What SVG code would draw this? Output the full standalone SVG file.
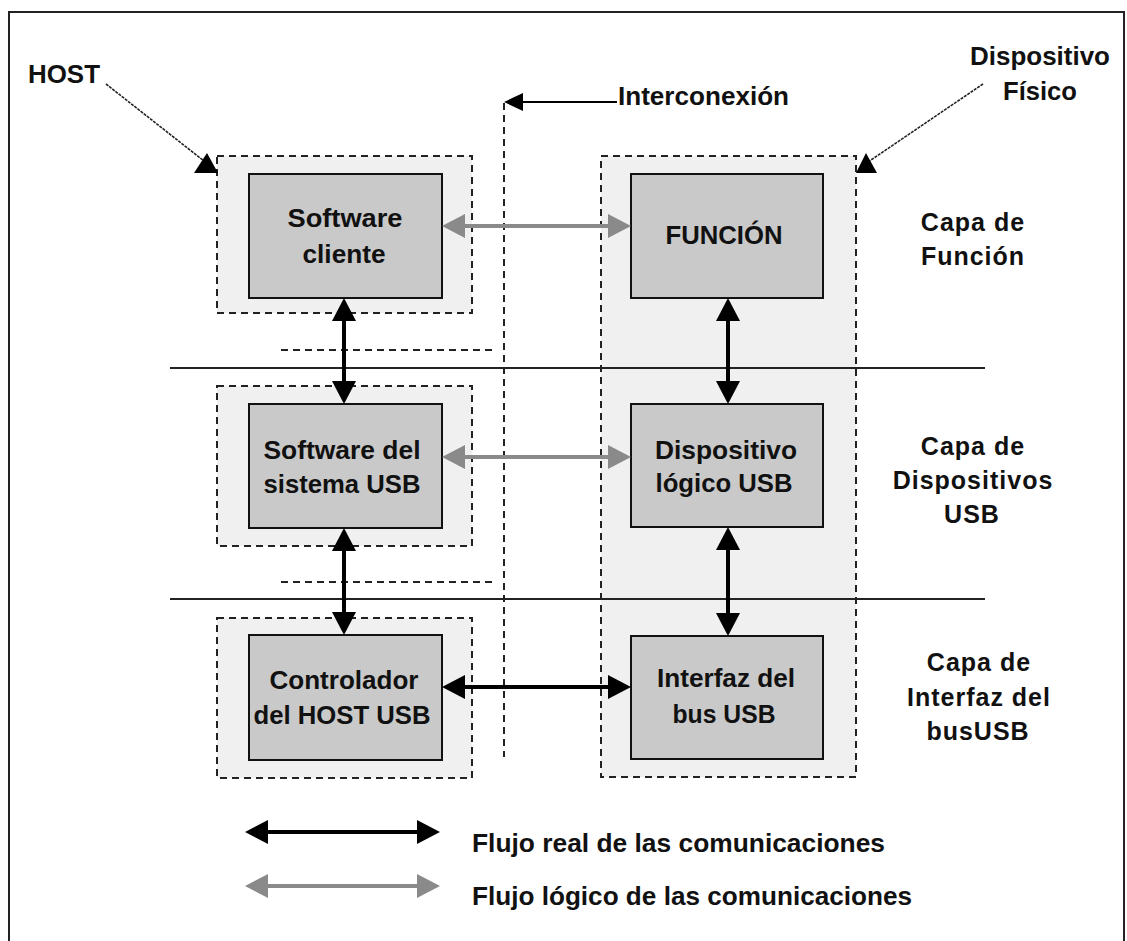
<svg xmlns="http://www.w3.org/2000/svg" width="1127" height="941" viewBox="0 0 1127 941">
  <style>
    text { font-family: "Liberation Sans", Arial, sans-serif; font-weight: bold; fill: #111; }
    .box { fill: #c9c9c9; stroke: #111; stroke-width: 2; }
    .zone { fill: #f0f0f0; stroke: #222; stroke-width: 2; stroke-dasharray: 7 5; }
    .lbl { font-size: 26px; text-anchor: middle; }
    .layer { font-size: 25px; text-anchor: middle; letter-spacing: 1px; }
    .real { stroke: #000; stroke-width: 4; fill: none; marker-start: url(#headK); marker-end: url(#headK); }
    .logic { stroke: #8a8a8a; stroke-width: 4; fill: none; marker-start: url(#headG); marker-end: url(#headG); }
    .sep { stroke: #222; stroke-width: 2; }
    .dash { stroke: #222; stroke-width: 2; stroke-dasharray: 7 5; fill: none; }
    .pointer { stroke: #222; stroke-width: 1.6; fill: none; stroke-dasharray: 3 1; }
  </style>
  <defs>
    <marker id="headK" viewBox="-24 -13 25 26" refX="-10" refY="0" markerWidth="25" markerHeight="26" markerUnits="userSpaceOnUse" orient="auto-start-reverse">
      <path d="M0,0 L-23,-12 L-23,12 Z" fill="#000"/>
    </marker>
    <marker id="headG" viewBox="-24 -13 25 26" refX="-10" refY="0" markerWidth="25" markerHeight="26" markerUnits="userSpaceOnUse" orient="auto-start-reverse">
      <path d="M0,0 L-23,-12 L-23,12 Z" fill="#8a8a8a"/>
    </marker>
  </defs>

  <rect width="1127" height="941" fill="#fff"/>
  <!-- frame -->
  <path d="M9,945 V12 H1124 V945" fill="none" stroke="#222" stroke-width="2"/>

  <!-- device column and host zones -->
  <g id="zones">
    <rect id="zone-device" class="zone" x="601" y="156" width="255" height="621"/>
    <rect id="zone-host1" class="zone" x="217" y="156" width="255" height="157"/>
    <rect id="zone-host2" class="zone" x="217" y="386" width="255" height="160"/>
    <rect id="zone-host3" class="zone" x="217" y="618" width="255" height="160"/>
  </g>

  <!-- layer separators and interconnect -->
  <g id="guides">
    <line class="sep" x1="170" y1="368" x2="985" y2="368"/>
    <line class="sep" x1="170" y1="599" x2="985" y2="599"/>
    <line class="dash" x1="281" y1="350" x2="497" y2="350"/>
    <line class="dash" x1="281" y1="582" x2="497" y2="582"/>
    <line class="dash" x1="504" y1="103" x2="504" y2="757"/>
  </g>

  <g id="n-software-cliente">
    <rect class="box" x="249" y="174" width="193" height="124"/>
    <text class="lbl" x="345" y="227" textLength="115" lengthAdjust="spacingAndGlyphs">Software</text>
    <text class="lbl" x="344" y="263" textLength="83" lengthAdjust="spacingAndGlyphs">cliente</text>
  </g>
  <g id="n-software-sistema">
    <rect class="box" x="249" y="404" width="193" height="124"/>
    <text class="lbl" x="342" y="459" textLength="157" lengthAdjust="spacingAndGlyphs">Software del</text>
    <text class="lbl" x="342" y="493" textLength="157" lengthAdjust="spacingAndGlyphs">sistema USB</text>
  </g>
  <g id="n-controlador">
    <rect class="box" x="249" y="635" width="193" height="125"/>
    <text class="lbl" x="344" y="689" textLength="149" lengthAdjust="spacingAndGlyphs">Controlador</text>
    <text class="lbl" x="342" y="724" textLength="177" lengthAdjust="spacingAndGlyphs">del HOST USB</text>
  </g>
  <g id="n-funcion">
    <rect class="box" x="631" y="174" width="192" height="124"/>
    <text class="lbl" x="724" y="244" textLength="117" lengthAdjust="spacingAndGlyphs">FUNCIÓN</text>
  </g>
  <g id="n-dispositivo-logico">
    <rect class="box" x="631" y="404" width="192" height="123"/>
    <text class="lbl" x="726" y="459" textLength="142" lengthAdjust="spacingAndGlyphs">Dispositivo</text>
    <text class="lbl" x="724" y="492" textLength="137" lengthAdjust="spacingAndGlyphs">lógico USB</text>
  </g>
  <g id="n-interfaz-bus">
    <rect class="box" x="631" y="636" width="192" height="123"/>
    <text class="lbl" x="726" y="687" textLength="138" lengthAdjust="spacingAndGlyphs">Interfaz del</text>
    <text class="lbl" x="724" y="723" textLength="103" lengthAdjust="spacingAndGlyphs">bus USB</text>
  </g>

  <!-- callout labels -->
  <g id="n-host-label">
    <text x="28" y="83" font-size="26" textLength="72" lengthAdjust="spacingAndGlyphs">HOST</text>
    <line class="pointer" x1="106" y1="84" x2="204" y2="161"/>
    <polygon points="194,173 218,173 207,153" fill="#000"/>
  </g>
  <g id="n-interconexion-label">
    <text x="618" y="105" font-size="26" textLength="171" lengthAdjust="spacingAndGlyphs">Interconexión</text>
    <line x1="617" y1="102" x2="520" y2="102" stroke="#000" stroke-width="2"/>
    <polygon points="504,102 523,93 523,111" fill="#000"/>
  </g>
  <g id="n-dispositivo-fisico-label">
    <text x="970" y="65" font-size="26" textLength="140" lengthAdjust="spacingAndGlyphs">Dispositivo</text>
    <text x="1003" y="100" font-size="26" textLength="74" lengthAdjust="spacingAndGlyphs">Físico</text>
    <line class="pointer" x1="983" y1="84" x2="868" y2="162"/>
    <polygon points="856,173 877,173 866,153" fill="#000"/>
  </g>

  <!-- layer names -->
  <g id="n-capa-funcion">
    <text class="layer" x="973" y="231">Capa de</text>
    <text class="layer" x="973" y="265">Función</text>
  </g>
  <g id="n-capa-dispositivos">
    <text class="layer" x="973" y="455">Capa de</text>
    <text class="layer" x="973" y="489">Dispositivos</text>
    <text class="layer" x="972" y="523">USB</text>
  </g>
  <g id="n-capa-interfaz">
    <text class="layer" x="979" y="671">Capa de</text>
    <text class="layer" x="979" y="706">Interfaz del</text>
    <text class="layer" x="978" y="740">busUSB</text>
  </g>

  <!-- connectors -->
  <g id="connectors">
    <line class="logic" x1="452" y1="226" x2="621" y2="226"/>
    <line class="logic" x1="452" y1="457" x2="621" y2="457"/>
    <line class="real" x1="452" y1="687" x2="621" y2="687"/>
    <line class="real" x1="344" y1="308" x2="344" y2="394"/>
    <line class="real" x1="344" y1="538" x2="344" y2="625"/>
    <line class="real" x1="728" y1="308" x2="728" y2="394"/>
    <line class="real" x1="728" y1="537" x2="728" y2="626"/>
  </g>

  <!-- legend -->
  <g id="legend">
    <line class="real" x1="255" y1="832" x2="430" y2="832"/>
    <text x="472" y="852" font-size="26" textLength="413" lengthAdjust="spacingAndGlyphs">Flujo real de las comunicaciones</text>
    <line class="logic" x1="255" y1="886" x2="430" y2="886"/>
    <text x="472" y="905" font-size="26" textLength="440" lengthAdjust="spacingAndGlyphs">Flujo lógico de las comunicaciones</text>
  </g>
</svg>
